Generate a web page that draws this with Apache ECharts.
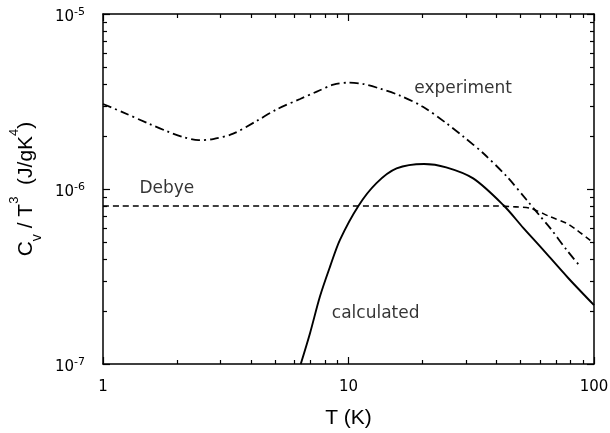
<!DOCTYPE html>
<html><head><meta charset="utf-8">
<script src="https://cdn.jsdelivr.net/npm/echarts@6/dist/echarts.min.js"></script>
<style>html,body{margin:0;padding:0;background:#fff}#c{width:610px;height:433px}</style>
</head><body><div id="c"></div>
<script>
// Experiment (dash-dot)
const expT = [1, 1.2, 1.55, 1.82, 2.12, 2.45, 2.81, 3.39, 4.23, 5.1, 6.35, 7.43, 8.68, 10, 11.5, 13.4, 16.2, 20.1, 25.1, 29.4, 35.4, 44.1, 53.2, 60.3, 66.2, 77.4, 88];
const expC = [3.06e-6, 2.75e-6, 2.35e-6, 2.14e-6, 1.98e-6, 1.9e-6, 1.93e-6, 2.07e-6, 2.45e-6, 2.85e-6, 3.27e-6, 3.6e-6, 3.95e-6, 4.05e-6, 3.98e-6, 3.75e-6, 3.42e-6, 2.95e-6, 2.37e-6, 1.99e-6, 1.6e-6, 1.18e-6, 8.65e-7, 7.0e-7, 6.0e-7, 4.48e-7, 3.6e-7];
// Calculated (solid)
const calcT = [6.39, 6.97, 7.65, 8.41, 9.23, 10.97, 13.0, 15.7, 20.3, 25, 32.2, 42.7, 51.5, 60.3, 78.5, 100];
const calcC = [1e-7, 1.5e-7, 2.43e-7, 3.6e-7, 5.12e-7, 8.0e-7, 1.08e-6, 1.31e-6, 1.39e-6, 1.33e-6, 1.15e-6, 8.1e-7, 6.0e-7, 4.7e-7, 3.1e-7, 2.17e-7];
// Debye (dashed)
const debyeT = [1, 10, 40, 48, 54.9, 66.2, 77.4, 85, 96.3, 100];
const debyeC = [8e-7, 8e-7, 8e-7, 7.9e-7, 7.76e-7, 6.95e-7, 6.37e-7, 5.83e-7, 5.11e-7, 4.9e-7];

// Minor log ticks
const xMinorTicks = [2, 3, 4, 5, 6, 7, 8, 9, 20, 30, 40, 50, 60, 70, 80, 90];
const yMinorTicks = [2e-7, 3e-7, 4e-7, 5e-7, 6e-7, 7e-7, 8e-7, 9e-7, 2e-6, 3e-6, 4e-6, 5e-6, 6e-6, 7e-6, 8e-6, 9e-6];

// Curve annotations
const noteText = ['experiment', 'Debye', 'calculated'];
const noteT = [29.3, 1.82, 12.9];
const noteC = [3.73e-6, 1.01e-6, 1.93e-7];

const pairs = (xs, ys) => xs.map((x, i) => [x, ys[i]]);
const FONT = 'DejaVu Sans';
const TFONT = 'Liberation Sans';
const BLACK = '#000';

const chart = echarts.init(document.getElementById('c'), null, {renderer: 'canvas'});

const axisLineStyle = {show: true, lineStyle: {color: BLACK, width: 1.5}};
const majorTick = {show: true, inside: true, length: 7, lineStyle: {color: BLACK, width: 1.2}};

const option = {
  animation: false,
  backgroundColor: '#fff',
  grid: {left: 103, right: 16, top: 14, bottom: 69, containLabel: false, outerBoundsMode: 'none'},
  xAxis: [
    {
      type: 'log', logBase: 10, min: 1, max: 100, position: 'bottom',
      axisLine: axisLineStyle, axisTick: majorTick, splitLine: {show: false}, minorTick: {show: false},
      axisLabel: {margin: 16, color: BLACK, fontSize: 15, fontFamily: FONT, formatter: v => String(Math.round(v))},
      name: 'T (K)', nameLocation: 'middle', nameGap: 44,
      nameTextStyle: {color: BLACK, fontSize: 21, fontFamily: TFONT}
    },
    {
      type: 'log', logBase: 10, min: 1, max: 100, position: 'top',
      axisLine: axisLineStyle, axisTick: majorTick, splitLine: {show: false}, axisLabel: {show: false}
    }
  ],
  yAxis: [
    {
      type: 'log', logBase: 10, min: 1e-7, max: 1e-5, position: 'left',
      axisLine: axisLineStyle, axisTick: majorTick, splitLine: {show: false},
      axisLabel: {
        margin: 18, color: BLACK, padding: [6, 0, 0, 0],
        formatter: v => '{b|10}{s|' + Math.round(Math.log10(v)) + '}',
        rich: {
          b: {fontSize: 15, fontFamily: FONT, color: BLACK, lineHeight: 20},
          s: {fontSize: 11, fontFamily: FONT, color: BLACK, verticalAlign: 'top', lineHeight: 11}
        }
      },
      name: '{m|C}{sub|v}{m| / T}{sup|3}{m|  (J/gK}{sup|4}{m|)}',
      nameLocation: 'middle', nameRotate: 90, nameGap: 58,
      nameTextStyle: {
        color: BLACK,
        rich: {
          m: {fontSize: 21, fontFamily: TFONT, color: BLACK, lineHeight: 36},
          sub: {fontSize: 14, fontFamily: TFONT, color: BLACK, verticalAlign: 'bottom', lineHeight: 16},
          sup: {fontSize: 13, fontFamily: TFONT, color: BLACK, verticalAlign: 'top', lineHeight: 14}
        }
      }
    },
    {
      type: 'log', logBase: 10, min: 1e-7, max: 1e-5, position: 'right',
      axisLine: axisLineStyle, axisTick: majorTick, splitLine: {show: false}, axisLabel: {show: false}
    }
  ],
  series: [
    {name: 'experiment', type: 'line', data: pairs(expT, expC), showSymbol: false, smooth: 0.3,
      lineStyle: {color: BLACK, width: 1.8, type: [9, 4, 2, 4]}, z: 3, silent: true},
    {name: 'Debye', type: 'line', data: pairs(debyeT, debyeC), showSymbol: false, smooth: 0.3,
      lineStyle: {color: BLACK, width: 1.6, type: [6, 4]}, z: 3, silent: true},
    {name: 'calculated', type: 'line', data: pairs(calcT, calcC), showSymbol: false, smooth: 0.3,
      lineStyle: {color: BLACK, width: 1.9, type: 'solid'}, z: 3, silent: true},
    {type: 'scatter', symbolSize: 0, silent: true, z: 6,
      data: noteText.map((t, i) => ({name: t, value: [noteT[i], noteC[i]]})),
      label: {show: true, position: [0, 0], align: 'center', verticalAlign: 'middle',
        formatter: p => p.name, color: BLACK, fontSize: 17, fontFamily: FONT}}
  ]
};
chart.setOption(option);

// Minor log ticks (2..9 per decade) on all four sides, positioned through the axes' own scales
(function addMinorTicks() {
  const px = v => chart.convertToPixel({xAxisIndex: 0}, v);
  const py = v => chart.convertToPixel({yAxisIndex: 0}, v);
  const left = px(1), right = px(100), top = py(1e-5), bottom = py(1e-7);
  const L = 4;
  const st = {stroke: BLACK, lineWidth: 1.2};
  const els = [];
  xMinorTicks.forEach(v => {
    const x = Math.round(px(v)) + 0.5;
    els.push({type: 'line', silent: true, z: 10, shape: {x1: x, y1: bottom, x2: x, y2: bottom - L}, style: st});
    els.push({type: 'line', silent: true, z: 10, shape: {x1: x, y1: top, x2: x, y2: top + L}, style: st});
  });
  yMinorTicks.forEach(v => {
    const y = Math.round(py(v)) + 0.5;
    els.push({type: 'line', silent: true, z: 10, shape: {x1: left, y1: y, x2: left + L, y2: y}, style: st});
    els.push({type: 'line', silent: true, z: 10, shape: {x1: right, y1: y, x2: right - L, y2: y}, style: st});
  });
  chart.setOption({graphic: {elements: els}});
})();
</script>
</body></html>
